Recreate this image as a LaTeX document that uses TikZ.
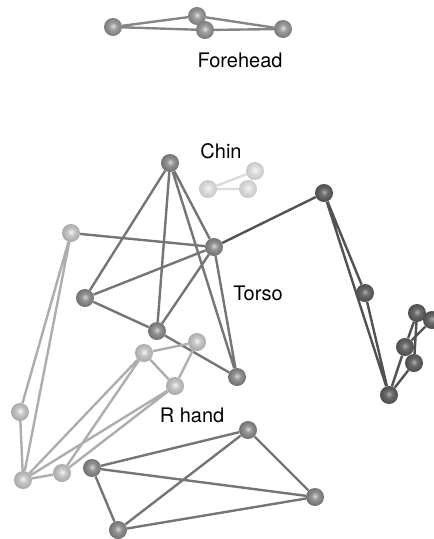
\documentclass[tikz,border=0pt]{standalone}
\usepackage{fontspec}
\setmainfont{TeX Gyre Heros}
\usetikzlibrary{backgrounds}
\pgfdeclareradialshading{shF}{\pgfpoint{0bp}{3bp}}{color(0bp)=(black!12); color(10bp)=(black!38); color(25bp)=(black!52); color(50bp)=(black!52)}
\pgfdeclareradialshading{shC}{\pgfpoint{0bp}{3bp}}{color(0bp)=(black!3); color(10bp)=(black!13); color(25bp)=(black!22); color(50bp)=(black!22)}
\pgfdeclareradialshading{shT}{\pgfpoint{0bp}{3bp}}{color(0bp)=(black!16); color(10bp)=(black!42); color(25bp)=(black!56); color(50bp)=(black!56)}
\pgfdeclareradialshading{shA}{\pgfpoint{0bp}{3bp}}{color(0bp)=(black!32); color(10bp)=(black!58); color(25bp)=(black!70); color(50bp)=(black!70)}
\pgfdeclareradialshading{shL}{\pgfpoint{0bp}{3bp}}{color(0bp)=(black!4); color(10bp)=(black!22); color(25bp)=(black!34); color(50bp)=(black!34)}
\tikzset{
  jt/.style={circle, minimum size=18pt, inner sep=0pt},
  jforehead/.style={jt, shading=shF},
  jchin/.style={jt, shading=shC},
  jtorso/.style={jt, shading=shT},
  jarm/.style={jt, shading=shA},
  jlarm/.style={jt, shading=shL},
  jhand/.style={jt, shading=shT},
  ln/.style={line width=2.4pt},
  lforehead/.style={ln, draw=black!48},
  lchin/.style={ln, draw=black!14},
  ltorso/.style={ln, draw=black!54},
  larm/.style={ln, draw=black!68},
  llarm/.style={ln, draw=black!32},
  lhand/.style={ln, draw=black!54},
  lbl/.style={font=\fontsize{20}{23}\selectfont, inner sep=0pt}
}
\begin{document}
\begin{tikzpicture}[x=1pt,y=-1pt]
\useasboundingbox (0,0) rectangle (434,539);
\clip (0,0) rectangle (434,539);
% Forehead
\node[jforehead] (F1) at (113,27) {};
\node[jforehead] (F2) at (197,16) {};
\node[jforehead] (F3) at (205,30) {};
\node[jforehead] (F4) at (283,29) {};
% Chin
\node[jchin] (C1) at (208,189) {};
\node[jchin] (C2) at (255,171) {};
\node[jchin] (C3) at (248,189) {};
% Torso
\node[jtorso] (Ttop) at (170,163) {};
\node[jtorso] (Tsh) at (214,247) {};
\node[jtorso] (Tl) at (85,298) {};
\node[jtorso] (Tm) at (157,331) {};
\node[jtorso] (Tbr) at (237,377) {};
% Right arm (dark)
\node[jarm] (R1) at (324,193) {};
\node[jarm] (R2) at (365,293) {};
\node[jarm] (R3) at (389,395) {};
\node[jarm] (A1) at (417,313) {};
\node[jarm] (A2) at (432,320) {};
\node[jarm] (A3) at (405,347) {};
\node[jarm] (A4) at (414,363) {};
% Left arm (light)
\node[jlarm] (L1) at (71,233) {};
\node[jlarm] (L2) at (20,412) {};
\node[jlarm] (L3) at (23,480) {};
\node[jlarm] (L4) at (62,473) {};
\node[jlarm] (E1) at (144,353) {};
\node[jlarm] (E2) at (197,342) {};
\node[jlarm] (E3) at (175,386) {};
% R hand
\node[jhand] (H1) at (92,468) {};
\node[jhand] (H2) at (248,430) {};
\node[jhand] (H3) at (315,497) {};
\node[jhand] (H4) at (118,530) {};
% Labels
\node[lbl] (lf) at (240,60) {Forehead};
\node[lbl] (lc) at (221,151) {Chin};
\node[lbl] (lt) at (258,293) {Torso};
\node[lbl] (lr) at (192,415) {R hand};
\begin{pgfonlayer}{background}
\draw[lforehead] (F1) -- (F2) (F1) -- (F3) (F3) -- (F4) (F2) -- (F4);
\draw[lchin] (C1) -- (C2) (C1) -- (C3) (C2) -- (C3);
\draw[ltorso] (Ttop) -- (Tl) (Ttop) -- (Tm) (Ttop) -- (Tsh) (Ttop) -- (Tbr)
  (Tl) -- (Tsh) (Tl) -- (Tm) (Tm) -- (Tsh) (Tm) -- (Tbr) (Tsh) -- (Tbr)
  (L1) -- (Tsh);
\draw[larm] (Tsh) -- (R1) (R1) -- (R2) (R2) -- (R3) (R1) -- (R3)
  (R3) -- (A3) (R3) -- (A4) (A3) -- (A1) (A4) -- (A1) (A2) -- (A3);
\draw[llarm] (L1) -- (L2) (L1) -- (L3) (L2) -- (L3) (L3) -- (L4)
  (L3) -- (E1) (L3) -- (E3) (L4) -- (E1) (L4) -- (E3)
  (E1) -- (E2) (E1) -- (E3) (E2) -- (E3);
\draw[lhand] (H1) -- (H2) (H1) -- (H3) (H1) -- (H4) (H2) -- (H3) (H2) -- (H4) (H3) -- (H4);
\end{pgfonlayer}
\end{tikzpicture}
\end{document}
